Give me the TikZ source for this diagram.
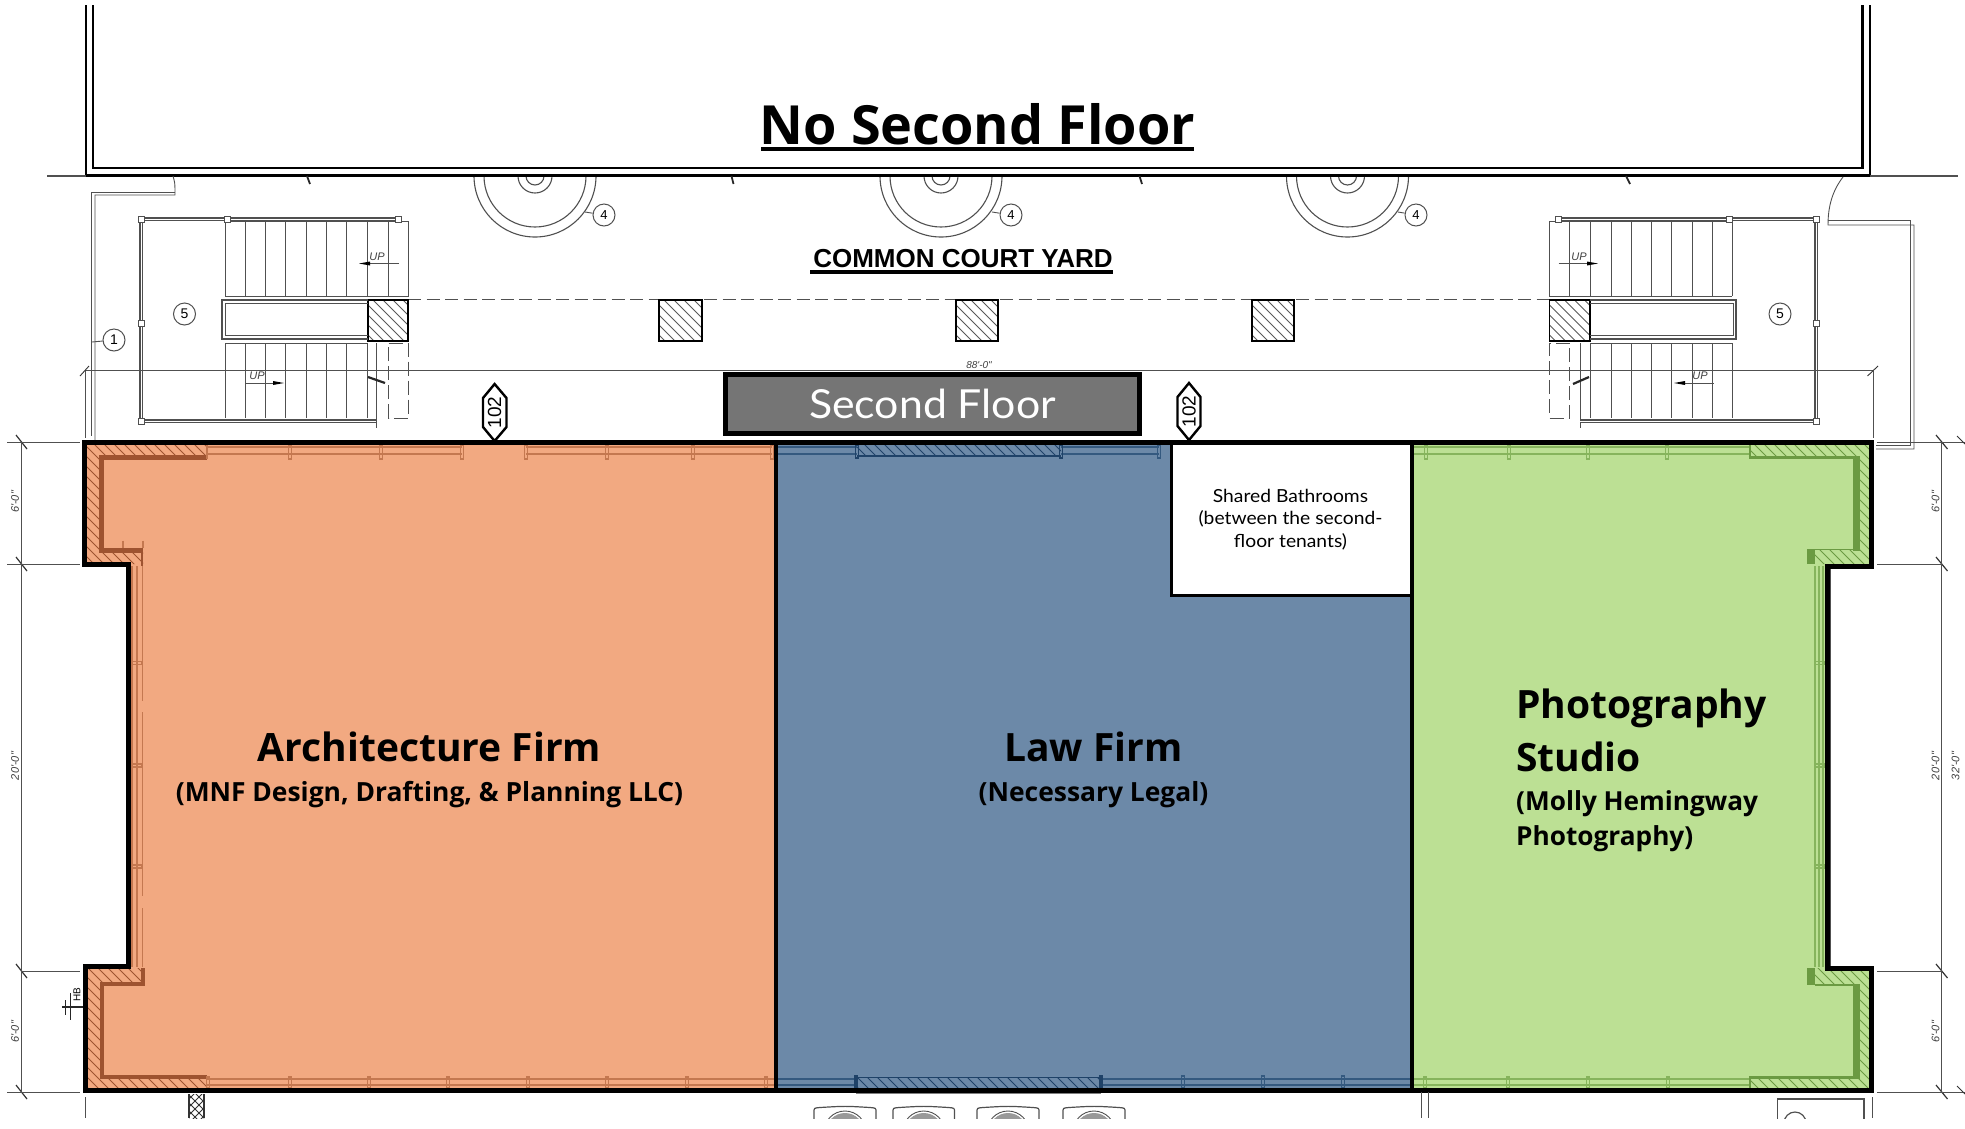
\documentclass[tikz,border=0pt]{standalone}
\usepackage{fontspec}
\usepackage{graphicx}
\setmainfont{Lato}
\newfontfamily\planfont{Liberation Sans}
\newfontfamily\headfont{Open Sans}
\definecolor{orgF}{HTML}{F2A981}
\definecolor{orgD}{HTML}{9E5330}
\definecolor{orgL}{HTML}{C47850}
\definecolor{bluF}{HTML}{6C89A8}
\definecolor{bluD}{HTML}{1F4268}
\definecolor{bluL}{HTML}{34597F}
\definecolor{grnF}{HTML}{BCE094}
\definecolor{grnD}{HTML}{6B9A42}
\definecolor{grnL}{HTML}{86B45C}
\definecolor{plan}{HTML}{505050}
\definecolor{slab}{HTML}{757575}
\newcommand\hatchregion[5]{%
  \begin{scope}
    \clip #1;
    \foreach \k in {0,...,#5} \draw[#2,line width=1pt] (#3+\k*#4,0) -- (#3+\k*#4+1128,1128);
  \end{scope}}
\newcommand\fs[1]{\fontsize{#1}{#1}\selectfont}
\tikzset{
  pl/.style={draw=plan,line width=0.9pt},
  plk/.style={draw=black!85,line width=1.2pt},
  rail/.style={draw=plan,line width=3.4pt},
  railin/.style={draw=white,line width=0.7pt},
  tag/.style={circle,draw=plan,fill=white,line width=1pt,minimum size=22pt,inner sep=0pt,font=\planfont\fs{14}},
  post/.style={draw=plan,fill=white,line width=1pt},
  dim/.style={draw=plan,line width=1pt},
  tick/.style={draw=black!80,line width=0.9pt},
  dimtxt/.style={font=\planfont\itshape\fs{11},rotate=90,text=black!75,inner sep=0pt},
  uptxt/.style={font=\planfont\itshape\fs{11},text=black!75,inner sep=0pt},
  col/.style={draw=black,line width=1.6pt},
  wall/.style={draw=black,line width=5pt,line join=miter},
  title/.style={inner sep=0pt,text=black},
  hex/.style={draw=black,line width=2.4pt,fill=white,line join=miter},
  strip/.style={line width=1.4pt},
}
\begin{document}
\begin{tikzpicture}[x=1pt,y=-1pt]
\useasboundingbox (0,0) rectangle (1965,1128);
\fill[white] (0,0) rectangle (1965,1128);

% ---- top block
\draw[black,line width=2.2pt] (86,5) -- (86,175.5) -- (1870,175.5) -- (1870,5);
\draw[black,line width=2.2pt] (93,5) -- (93,168) -- (1862.5,168) -- (1862.5,5);
\draw[pl,line width=1.2pt] (47,176) -- (86,176);
\draw[pl,line width=1.2pt] (1870,176) -- (1958,176);
\node[title,font=\headfont\bfseries\fs{54}] (nosecond) at (977.5,124) {No Second Floor};
\draw[black,line width=3.4pt] (761,149) -- (1194,149);

% ---- courtyard walls
\draw[pl] (173,176) .. controls (175,183) .. (175,195) -- (95,195) -- (95,440);
\draw[pl] (175,192) -- (91,192) -- (91,436);
\draw[pl] (1843,177) .. controls (1833,190) and (1828,205) .. (1828,225) -- (1914,225) -- (1914,449) -- (1876,449);
\draw[pl] (1828,220) -- (1910,220) -- (1910,445) -- (1876,445);
\draw[plk,line width=1.8pt] (307,176) -- (310,184);
\draw[plk,line width=1.8pt] (731.5,176) -- (733.5,184);
\draw[plk,line width=1.8pt] (1139.5,176) -- (1142,184);
\draw[plk,line width=1.8pt] (1626,176) -- (1630,184);

% ---- planters
\begin{scope}
  \clip (400,177) rectangle (1500,260);
  \foreach \cx in {535,941,1347.5} {
    \draw[pl,line width=1.1pt] (\cx,176) circle[radius=61];
    \draw[pl,line width=1.1pt] (\cx,176) circle[radius=51];
    \draw[pl,line width=1.1pt] (\cx,176) circle[radius=17];
    \draw[pl,line width=1.1pt] (\cx,176) circle[radius=9];
  }
\end{scope}
\coordinate (l4a) at (585,212); \coordinate (l4b) at (992,212); \coordinate (l4c) at (1398,212);
\node[tag,font=\planfont\fs{13}] (t4a) at (604,215) {4};
\node[tag,font=\planfont\fs{13}] (t4b) at (1011,215) {4};
\node[tag,font=\planfont\fs{13}] (t4c) at (1416,215) {4};
\draw[pl] (l4a) -- (t4a);
\draw[pl] (l4b) -- (t4b);
\draw[pl] (l4c) -- (t4c);
\node[tag] (t1) at (114,340) {1};
\coordinate (l1) at (92,342);
\draw[pl] (l1) -- (t1);
\node[tag] (t5a) at (184.5,314) {5};
\node[tag] (t5b) at (1780,314) {5};

% ---- dashed line and columns
\draw[pl,line width=1.4pt,dash pattern=on 13pt off 5.5pt] (408,299.5) -- (1549.5,299.5);
\foreach \xa/\xb in {368/408,659/702,956/998,1252/1294,1549.5/1590} {
  \hatchregion{(\xa,300) rectangle (\xb,341)}{black!65}{\xa-345}{10}{10}
  \draw[col] (\xa,300) rectangle (\xb,341);
}

% ---- left stair
\foreach \x in {225,245.3,...,370} \draw[pl] (\x,221) -- (\x,296);
\draw[pl] (388.5,221) -- (388.5,296);
\draw[pl] (225,221) -- (408,221) -- (408,296) -- (225,296);
\foreach \x in {225,245.3,...,370} \draw[pl] (\x,343) -- (\x,418);
\draw[pl] (225,343) -- (368,343);
\draw[pl] (376.5,343) -- (376.5,428);
\draw[pl,dash pattern=on 14pt off 5pt] (388.5,343) -- (408,343) -- (408,418) -- (388.5,418) -- cycle;
\draw[plk,line width=2.2pt] (368,377) -- (385,383);
\draw[pl,line width=1.3pt] (368,300) -- (222,300) -- (222,339) -- (368,339);
\draw[pl] (368,303) -- (225,303) -- (225,335.5) -- (368,335.5);
\draw[rail] (141,219) -- (398,219);
\draw[railin] (141,219) -- (398,219);
\draw[rail] (141,219) -- (141,421) -- (376,421);
\draw[railin] (141,219) -- (141,421) -- (376,421);
\foreach \x/\y in {141/219,227.6/219,398/219,141/323,141/421}
  \draw[post] (\x-3,\y-3) rectangle (\x+3,\y+3);

% ---- right stair
\foreach \x in {1569.5,1590,1611,1631,1651,1671.5,1692,1712,1732} \draw[pl] (\x,221) -- (\x,296);
\draw[pl] (1732,221) -- (1549.5,221) -- (1549.5,296) -- (1732,296);
\foreach \x in {1590,1611,1631,1651,1671.5,1692,1712,1732} \draw[pl] (\x,343) -- (\x,418);
\draw[pl] (1590,343) -- (1732,343);
\draw[pl] (1580,343) -- (1580,428);
\draw[pl,dash pattern=on 14pt off 5pt] (1569.5,343) -- (1549.5,343) -- (1549.5,418) -- (1569.5,418) -- cycle;
\draw[plk,line width=2.2pt] (1573,384) -- (1589,377);
\draw[pl,line width=1.3pt] (1590,300) -- (1736,300) -- (1736,339) -- (1590,339);
\draw[pl] (1590,303) -- (1733,303) -- (1733,335.5) -- (1590,335.5);
\draw[rail] (1558.5,219) -- (1816,219) -- (1816,421) -- (1580,421);
\draw[railin] (1558.5,219) -- (1816,219) -- (1816,421) -- (1580,421);
\foreach \x/\y in {1558.5/219,1729/219,1816/219,1816/323,1816/421}
  \draw[post] (\x-3,\y-3) rectangle (\x+3,\y+3);

% ---- UP arrows
\draw[pl] (399,263.5) -- (370,263.5); \fill[black] (370,261.5) -- (359,263.5) -- (370,265.5) -- cycle;
\node[uptxt] (upa) at (377,257) {UP};
\draw[pl] (245,383) -- (273,383); \fill[black] (273,381) -- (284,383) -- (273,385) -- cycle;
\node[uptxt] (upb) at (257,376) {UP};
\draw[pl] (1558.5,263.5) -- (1587,263.5); \fill[black] (1587,261.5) -- (1598,263.5) -- (1587,265.5) -- cycle;
\node[uptxt] (upc) at (1579,257) {UP};
\draw[pl] (1713.5,383) -- (1685,383); \fill[black] (1685,381) -- (1674,383) -- (1685,385) -- cycle;
\node[uptxt] (upd) at (1700,376) {UP};

% ---- court yard label
\node[inner sep=0pt,font=\planfont\bfseries\fs{26}] (court) at (963,258.5) {COMMON COURT YARD};
\draw[black,line width=3.6pt] (810,272) -- (1113,272);

% ---- horizontal dimension
\draw[dim] (85,370.7) -- (1873,370.7);
\draw[dim] (85,370.7) -- (85,438);
\draw[dim] (1873,370.7) -- (1873,438);
\draw[tick] (80,376) -- (89,366);
\draw[tick] (1867.5,376) -- (1878,366);
\node[inner sep=0pt,font=\planfont\itshape\fs{10},text=black!75] (d88) at (979,365) {88'-0"};

% ---- second-floor label
\node[draw=black,line width=4.5pt,fill=slab,minimum width=414pt,minimum height=59pt,inner sep=0pt,text=white,font=\fs{40}] (secondfloor) at (932.5,404) {\scalebox{1.07}[1]{Second Floor}};

% ---- rooms
\fill[orgF] (85,442) -- (776,442) -- (776,1090) -- (86,1090) -- (86,966) -- (128,966) -- (128,564) -- (85,564) -- cycle;
\fill[bluF] (776,442) rectangle (1412,1090);
\fill[grnF] (1412,442) -- (1871.5,442) -- (1871.5,564) -- (1827,564) -- (1827,968) -- (1871.5,968) -- (1871.5,1090) -- (1412,1090) -- cycle;

% orange wall
\hatchregion{(85,444) -- (207,444) -- (207,457) -- (101,457) -- (101,550) -- (143,550) -- (143,564) -- (85,564) -- cycle}{orgD}{-480}{10}{25}
\draw[orgD,line width=5pt,line join=miter] (207,457) -- (101,457) -- (101,550) -- (142,550);
\draw[orgD,line width=2.2pt] (142,548) -- (142,566);
\draw[orgL,strip] (207,444) -- (207,459);
\hatchregion{(86,968) -- (143,968) -- (143,984) -- (102,984) -- (102,1078) -- (207,1078) -- (207,1089) -- (86,1089) -- cycle}{orgD}{-1010}{10}{26}
\draw[orgD,line width=4.5pt,line join=miter] (143,968) -- (143,984) -- (102,984) -- (102,1077) -- (207,1077);
\draw[orgL,strip] (123,540.5) -- (123,548);
\draw[orgL,strip] (143,540.5) -- (143,548);
\foreach \ya in {447,454} {
  \draw[orgL,strip] (207,\ya) -- (462,\ya);
  \draw[orgL,strip] (526,\ya) -- (772,\ya);
}
\foreach \x in {290,381,462,526,607,693,772}
  \draw[orgL,line width=1.2pt] (\x-1.8,445) rectangle (\x+1.8,459);
\foreach \x in {132,137}
  \draw[orgL,line width=1.6pt] (\x,566) -- (\x,967);
\draw[orgL,line width=1pt] (142.5,566) -- (142.5,701);
\draw[orgL,line width=1pt] (142.5,712) -- (142.5,896);
\draw[orgL,line width=1pt] (142.5,908) -- (142.5,967);
\foreach \y in {663,765.5,866.5}
  \draw[orgL,line width=1.2pt] (131,\y-1.5) rectangle (142,\y+1.5);
\foreach \ya in {1079,1085}
  \draw[orgL,strip] (207,\ya) -- (775,\ya);
\foreach \x in {208,290,369,448,528,607,687,766}
  \draw[orgL,line width=1.2pt] (\x-1.8,1077) rectangle (\x+1.8,1088);

% blue wall
\foreach \ya in {447,454} \draw[bluL,strip] (776,\ya) -- (857,\ya);
\foreach \ya in {447,454} \draw[bluL,strip] (1061,\ya) -- (1159,\ya);
\hatchregion{(857,444) rectangle (1061,456)}{bluD}{400}{10}{22}
\draw[bluD,line width=1.2pt] (857,456) -- (1061,456);
\foreach \x in {857,1061} \draw[bluD,line width=1.4pt] (\x-1.5,445) rectangle (\x+1.5,458);
\draw[bluL,line width=1.2pt] (1157.5,445) rectangle (1160.5,458);
\foreach \ya in {1079,1085} {
  \draw[bluL,strip] (776,\ya) -- (856,\ya);
  \draw[bluL,strip] (1101,\ya) -- (1411,\ya);
}
\hatchregion{(856,1078) rectangle (1101,1089)}{bluD}{-240}{10}{27}
\draw[bluD,line width=1.6pt] (856,1077.5) -- (1101,1077.5);
\foreach \x in {856,1101} \draw[bluD,line width=1.4pt] (\x-1,1076) rectangle (\x+1,1090);
\foreach \x in {1183,1263,1343} \draw[bluL,line width=1.2pt] (\x-1.5,1076) rectangle (\x+1.5,1088);

% green wall
\foreach \ya in {447,454} \draw[grnL,strip] (1412,\ya) -- (1750,\ya);
\foreach \x in {1426,1509,1588,1667} \draw[grnL,line width=1.2pt] (\x-1.8,445) rectangle (\x+1.8,459);
\hatchregion{(1750,444) -- (1870,444) -- (1870,564) -- (1815,564) -- (1815,550) -- (1860,550) -- (1860,457) -- (1750,457) -- cycle}{grnD}{1180}{10}{26}
\draw[grnD,line width=3pt] (1748.5,457) -- (1860,457);
\draw[grnD,line width=1.4pt] (1815,549.5) -- (1853,549.5);
\fill[grnD] (1853,456) rectangle (1860,551);
\fill[grnD] (1807,549) rectangle (1815,564);
\draw[grnD,line width=2pt] (1750,444) -- (1750,458);
\foreach \x in {1815,1819,1823} \draw[grnL,line width=1.2pt] (\x,566) -- (\x,967);
\foreach \y in {663,765.5,866.5} \draw[grnL,line width=1.2pt] (1815,\y-1.5) rectangle (1824,\y+1.5);
\draw[plan,line width=1pt] (1830,566) -- (1830,966);
\hatchregion{(1815,968) -- (1870,968) -- (1870,1089) -- (1750,1089) -- (1750,1079) -- (1860,1079) -- (1860,985) -- (1815,985) -- cycle}{grnD}{660}{10}{25}
\fill[grnD] (1807,968) rectangle (1815,985);
\draw[grnD,line width=1.4pt] (1815,985) -- (1853,985);
\fill[grnD] (1853,984) rectangle (1860,1079);
\draw[grnD,line width=2.6pt] (1749,1077.5) -- (1860,1077.5);
\foreach \ya in {1079,1085} \draw[grnL,strip] (1412,\ya) -- (1750,\ya);
\foreach \x in {1425,1508,1588,1668} \draw[grnL,line width=1.2pt] (\x-1.8,1077) rectangle (\x+1.8,1088);
\draw[grnD,line width=1.6pt] (1750,1076) -- (1750,1090);

% white bathroom
\fill[white] (1171,442) rectangle (1412,595);
\draw[black,line width=3pt] (1171,442) -- (1171,595) -- (1412,595);

% thick structure lines
\draw[black,line width=2.2pt,opacity=0.5] (856,1093) -- (1101,1093);
\draw[black,line width=2.2pt,opacity=0.6] (1750,1092) -- (1871,1092);
\draw[black,line width=4pt] (776,442) -- (776,1090);
\draw[black,line width=3.5pt] (1412,442) -- (1412,1090);
\draw[wall] (84.5,442) -- (1871.5,442) -- (1871.5,566) -- (1827,566) -- (1827,968) -- (1871.5,968) -- (1871.5,1090.5) -- (85.5,1090.5) -- (85.5,966) -- (128,966) -- (128,564) -- (84.5,564) -- cycle;

% ---- view tags
\draw[hex] (494.6,384) -- (506.5,398) -- (506.5,427) -- (494.6,441) -- (483,427) -- (483,398) -- cycle;
\node[inner sep=0pt,rotate=90,font=\planfont\fs{19}] (v1) at (494.6,412.5) {102};
\draw[hex] (1189,383) -- (1200.5,397) -- (1200.5,426) -- (1189,440) -- (1177.5,426) -- (1177.5,397) -- cycle;
\node[inner sep=0pt,rotate=90,font=\planfont\fs{19}] (v2) at (1189,411.5) {102};

% ---- vertical dimensions
\foreach \y in {442,564,971,1092} {
  \draw[tick,line width=1.2pt] (16,\y-7) -- (27,\y+7);
  \draw[tick,line width=1.2pt] (1936,\y-7) -- (1947.5,\y+7);
}
\draw[dim] (21.7,442) -- (21.7,1092);
\draw[dim] (1941.7,442) -- (1941.7,1092);
\draw[dim] (7,442) -- (80,442);
\draw[dim] (7,564) -- (80,564);
\draw[dim] (22,971) -- (80,971);
\draw[dim] (7,1092) -- (80,1092);
\draw[dim] (1877,442) -- (1965,442);
\draw[dim] (1877,564) -- (1941.7,564);
\draw[dim] (1877,971) -- (1941.7,971);
\draw[dim] (1877,1092) -- (1965,1092);
\draw[tick] (1957,436) -- (1965,444);
\draw[tick] (1957,1086) -- (1965,1094);
\node[dimtxt] (dl1) at (15,502) {6'-0"};
\node[dimtxt] (dl2) at (15,766) {20'-0"};
\node[dimtxt] (dl3) at (15,1032) {6'-0"};
\node[dimtxt] (dr1) at (1935.5,502) {6'-0"};
\node[dimtxt] (dr2) at (1935.5,766) {20'-0"};
\node[dimtxt] (dr3) at (1935.5,1032) {6'-0"};
\node[dimtxt] (dr4) at (1955.5,766) {32'-0"};

% ---- HB mark
\draw[plk] (83,1007) -- (62,1007);
\draw[plk] (65.7,1000) -- (65.7,1015);
\draw[plk] (70.7,993) -- (70.7,1020);
\node[inner sep=0pt,rotate=90,font=\planfont\fs{10}] (hb) at (77,995) {HB};

% ---- below the building
\begin{scope}
  \clip (0,1090) rectangle (1965,1118);
  \draw[pl] (85,1097) -- (85,1118);
  \fill[white] (189,1094) rectangle (204,1118);
  \begin{scope}
    \clip (189,1094) rectangle (204,1118);
    \foreach \d in {160,168,...,220} {
      \draw[black!80,line width=1pt] (\d,1090) -- (\d+30,1120);
      \draw[black!80,line width=1pt] (\d+30,1090) -- (\d,1120);
    }
  \end{scope}
  \draw[black!80,line width=1.4pt] (189,1094) -- (189,1118);
  \draw[black!80,line width=1.4pt] (204,1094) -- (204,1118);
  \foreach \xa/\xb in {814/876,893/954.5,977/1039,1063/1125} {
    \draw[pl,line width=1.2pt] (\xa,1120) -- (\xa,1112) .. controls (\xa,1108) .. (\xa+6,1107.5) .. controls ({(\xa+\xb)/2},1106) .. (\xb-6,1107.5) .. controls (\xb,1108) .. (\xb,1112) -- (\xb,1120);
    \fill[black!40] ({(\xa+\xb)/2},1132) circle[radius=19];
    \draw[pl] ({(\xa+\xb)/2},1132) circle[radius=21];
  }
  \draw[pl] (1421,1092) -- (1421,1118);
  \draw[pl] (1428,1092) -- (1428,1118);
  \draw[pl,line width=1.2pt] (1777.7,1120) -- (1777.7,1099) -- (1864,1099) -- (1864,1120);
  \draw[pl] (1872,1097) -- (1872,1118);
  \draw[pl,line width=1.2pt] (1795,1123) circle[radius=11];
\end{scope}

% ---- room labels
\node[title,font=\headfont\bfseries\fs{39}] (arch) at (429.5,747) {Architecture Firm};
\node[title,font=\headfont\bfseries\fs{26.4}] (archsub) at (429.5,794.5) {(MNF Design, Drafting, \& Planning LLC)};
\node[title,font=\headfont\bfseries\fs{39}] (law) at (1093.5,747) {Law Firm};
\node[title,font=\headfont\bfseries\fs{26.4}] (lawsub) at (1093.5,794.5) {(Necessary Legal)};
\node[title,anchor=west,font=\headfont\bfseries\fs{39}] (ph1) at (1516,708) {Photography};
\node[title,anchor=west,font=\headfont\bfseries\fs{39}] (ph2) at (1516,757) {Studio};
\node[title,anchor=west,font=\headfont\bfseries\fs{26.2}] (ph3) at (1516,803.5) {(Molly Hemingway};
\node[title,anchor=west,font=\headfont\bfseries\fs{26.2}] (ph4) at (1516,838.5) {Photography)};
\node[inner sep=0pt,text=black,font=\fs{18}] (sb1) at (1290.5,496) {\scalebox{1.07}[1]{Shared Bathrooms}};
\node[inner sep=0pt,text=black,font=\fs{18}] (sb2) at (1290.5,519) {\scalebox{1.07}[1]{(between the second-}};
\node[inner sep=0pt,text=black,font=\fs{18}] (sb3) at (1290.5,542) {\scalebox{1.07}[1]{floor tenants)}};
\end{tikzpicture}
\end{document}
